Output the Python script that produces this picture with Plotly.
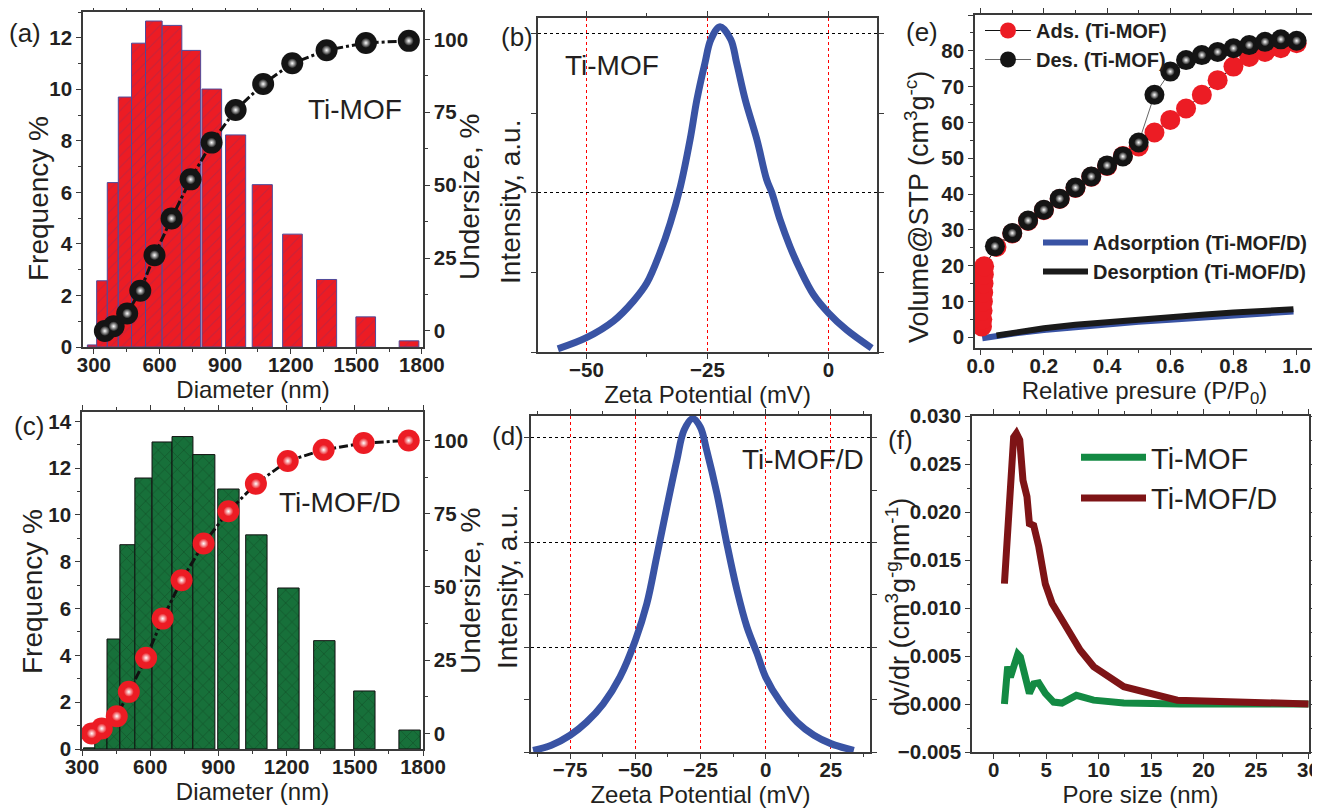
import plotly.graph_objects as go

F = "Liberation Sans, Arial, sans-serif"
TXT = "#231f20"
AX = "#3a3a3a"
RED = "#ec1c24"
BLUE = "#3953a4"
GREEN_BAR = "#17703a"
GREEN_LINE = "#138a43"
DARK_RED = "#7e1416"

# ---------------- (a) Ti-MOF size distribution ----------------
a_centers = [292, 337, 386, 442, 504, 574, 657, 745, 839, 948, 1070, 1208, 1364, 1543, 1741]
a_widths = [44, 49, 50, 61, 64, 76, 90, 86, 90, 92, 92, 90, 92, 90, 90]
a_freq = [0.08, 2.57, 6.38, 9.70, 11.79, 12.65, 12.48, 11.51, 10.01, 8.23, 6.30, 4.38, 2.62, 1.17, 0.24]
a_ux = [350, 390, 452, 512, 577, 655, 742, 838, 948, 1074, 1207, 1364, 1544, 1740]
a_uy = [0.0, 1.6, 6.0, 13.8, 26.0, 38.6, 52.0, 64.6, 75.8, 84.7, 91.8, 96.3, 98.8, 99.5]

# ---------------- (c) Ti-MOF/D size distribution ----------------
c_centers = [331, 383, 438, 500, 570, 652, 742, 836, 944, 1067, 1208, 1366, 1542, 1741]
c_widths = [49, 54, 56, 67, 75, 88, 92, 97, 94, 94, 94, 94, 94, 94]
c_freq = [0.05, 1.0, 4.70, 8.73, 11.58, 13.12, 13.35, 12.58, 11.11, 9.15, 6.88, 4.63, 2.48, 0.81]
c_ux = [343, 387, 453, 506, 582, 655, 738, 835, 944, 1065, 1205, 1363, 1539, 1737]
c_uy = [0.0, 1.7, 5.9, 14.2, 25.8, 39.2, 52.3, 64.8, 75.8, 85.2, 93.0, 96.8, 99.1, 100.0]

# ---------------- (b) zeta potential Ti-MOF ----------------
b_x = [-55.9, -50, -44.4, -40.3, -37.5, -34.8, -32.7, -30.6, -28.6, -27.2, -25.5, -24.3, -22.4,
       -20.2, -19.0, -17.2, -14.8, -12.8, -11.7, -10, -8, -5.9, -3.1, 0, 3.7, 8.9]
b_y = [0.04, 0.18, 0.39, 0.64, 0.87, 1.25, 1.62, 2.08, 2.67, 3.17, 3.64, 3.93, 4.09,
       3.93, 3.64, 3.17, 2.67, 2.17, 2.0, 1.66, 1.33, 1.04, 0.72, 0.49, 0.28, 0.05]

# ---------------- (d) zeta potential Ti-MOF/D ----------------
d_x = [-89.2, -82.2, -75, -68.7, -62.3, -55.9, -50, -45.6, -41.8, -37.9, -34.1, -31.3, -28,
       -25.1, -22.6, -18.7, -14.9, -11, -7.2, -3.3, 0, 5.6, 12.1, 18.5, 25, 33.8]
d_y = [0.03, 0.13, 0.32, 0.57, 0.92, 1.43, 2.13, 2.83, 3.73, 4.68, 5.57, 6.15, 6.37,
       6.21, 5.76, 4.94, 3.98, 3.09, 2.39, 1.88, 1.43, 0.96, 0.57, 0.32, 0.16, 0.03]

# ---------------- (e) N2 isotherms ----------------
e_ads_x = [0.004, 0.005, 0.006, 0.007, 0.008, 0.009, 0.010, 0.011,
           0.05, 0.10, 0.15, 0.20, 0.25, 0.30, 0.35, 0.40, 0.45, 0.50,
           0.55, 0.60, 0.65, 0.70, 0.75, 0.80, 0.85, 0.90, 0.95, 1.00]
e_ads_y = [3.0, 5.0, 7.5, 10.0, 12.5, 15.0, 17.5, 19.8,
           25.2, 29.0, 32.5, 35.5, 38.6, 41.7, 44.8, 47.8, 50.6, 53.3,
           57.2, 60.7, 63.9, 67.7, 71.8, 75.6, 78.3, 79.7, 80.7, 82.1]
e_des_x = [0.045, 0.10, 0.15, 0.20, 0.25, 0.30, 0.35, 0.40, 0.45, 0.50,
           0.55, 0.60, 0.65, 0.70, 0.75, 0.80, 0.85, 0.90, 0.95, 1.00]
e_des_y = [25.4, 29.1, 32.6, 35.6, 38.7, 41.8, 44.9, 48.0, 50.5, 54.4,
           67.7, 74.2, 77.4, 78.8, 79.7, 80.7, 81.6, 82.5, 83.2, 82.8]
eD_ads_x = [0.005, 0.05, 0.1, 0.2, 0.3, 0.4, 0.5, 0.6, 0.7, 0.8, 0.9, 0.99]
eD_ads_y = [-0.3, 0.4, 1.0, 2.0, 2.9, 3.6, 4.3, 4.9, 5.4, 6.0, 6.6, 7.2]
eD_des_x = [0.05, 0.1, 0.2, 0.3, 0.4, 0.5, 0.6, 0.7, 0.8, 0.9, 0.99]
eD_des_y = [0.5, 1.2, 2.5, 3.5, 4.3, 5.0, 5.7, 6.3, 6.9, 7.3, 7.8]

# ---------------- (f) pore size distribution ----------------
f_d_x = [1.02, 1.59, 1.9, 2.16, 2.48, 2.79, 3.17, 3.4, 3.81, 4.29, 4.92, 5.56, 6.5, 8.25, 9.52,
         12.4, 17.5, 24.1, 30.0]
f_d_y = [0.01254, 0.0247, 0.0278, 0.0282, 0.0275, 0.0233, 0.0216, 0.0188, 0.0186, 0.0164,
         0.0125, 0.0105, 0.0087, 0.0056, 0.0039, 0.0018, 0.0004, 0.0002, 0.0000]
f_m_x = [1.02, 1.33, 1.59, 1.9, 2.29, 2.54, 3.17, 3.4, 3.81, 4.29, 4.92, 5.71, 6.5, 7.87, 9.52,
         12.4, 17.8, 30.0]
f_m_y = [0.0, 0.0039, 0.0028, 0.0042, 0.0052, 0.0049, 0.0018, 0.0011, 0.0021, 0.0022, 0.0011,
         0.0002, 0.0001, 0.0009, 0.0004, 0.0001, 0.0, 0.0]

# page geometry: the page body adds an 8 px offset, so the figure is 1312 x 800
W, H, OFF = 1312, 800, 8


def X(px):
    return (px - OFF) / W


def Y(py):
    return 1 - (py - OFF) / H


fig = go.Figure()

# (a)
fig.add_trace(go.Bar(x=a_centers, y=a_freq, width=a_widths, xaxis="x", yaxis="y",
                     marker=dict(color=RED, line=dict(color="#4f4a9a", width=1),
                                 pattern=dict(shape="/", fgcolor="#9a2a55", size=8, solidity=0.12)),
                     showlegend=False))
fig.add_trace(go.Scatter(x=a_ux, y=a_uy, xaxis="x", yaxis="y2", mode="lines+markers",
                         line=dict(color="#111", width=3, dash="dashdot"),
                         marker=dict(size=22, color="#141414"), showlegend=False))
fig.add_trace(go.Scatter(x=a_ux, y=a_uy, xaxis="x", yaxis="y2", mode="markers",
                         marker=dict(size=10, color="#141414", gradient=dict(type="radial", color="white")),
                         showlegend=False, hoverinfo="skip"))

# (c)
fig.add_trace(go.Bar(x=c_centers, y=c_freq, width=c_widths, xaxis="x3", yaxis="y4",
                     marker=dict(color=GREEN_BAR, line=dict(color="#111", width=1),
                                 pattern=dict(shape="x", fgcolor="#0a2a12", size=9, solidity=0.12)),
                     showlegend=False))
fig.add_trace(go.Scatter(x=c_ux, y=c_uy, xaxis="x3", yaxis="y5", mode="lines+markers",
                         line=dict(color="#111", width=3, dash="dashdot"),
                         marker=dict(size=22, color=RED), showlegend=False))
fig.add_trace(go.Scatter(x=c_ux, y=c_uy, xaxis="x3", yaxis="y5", mode="markers",
                         marker=dict(size=10, color=RED, gradient=dict(type="radial", color="white")),
                         showlegend=False, hoverinfo="skip"))

# (b)
fig.add_trace(go.Scatter(x=b_x, y=b_y, xaxis="x2", yaxis="y3", mode="lines",
                         line=dict(color=BLUE, width=7, shape="spline"), showlegend=False))
# (d)
fig.add_trace(go.Scatter(x=d_x, y=d_y, xaxis="x4", yaxis="y6", mode="lines",
                         line=dict(color=BLUE, width=7, shape="spline"), showlegend=False))

# (e)
fig.add_trace(go.Scatter(x=eD_ads_x, y=eD_ads_y, xaxis="x5", yaxis="y7", mode="lines",
                         name="Adsorption (Ti-MOF/D)", line=dict(color=BLUE, width=6), legend="legend2"))
fig.add_trace(go.Scatter(x=eD_des_x, y=eD_des_y, xaxis="x5", yaxis="y7", mode="lines",
                         name="Desorption (Ti-MOF/D)", line=dict(color="#1a1a1a", width=6), legend="legend2"))
fig.add_trace(go.Scatter(x=e_ads_x, y=e_ads_y, xaxis="x5", yaxis="y7", mode="lines+markers",
                         name="Ads. (Ti-MOF)", line=dict(color="#111", width=1),
                         marker=dict(size=20, color=RED), legend="legend"))
fig.add_trace(go.Scatter(x=e_des_x, y=e_des_y, xaxis="x5", yaxis="y7", mode="lines+markers",
                         name="Des. (Ti-MOF)", line=dict(color="#666", width=1),
                         marker=dict(size=20, color="#141414"), legend="legend"))
fig.add_trace(go.Scatter(x=e_des_x, y=e_des_y, xaxis="x5", yaxis="y7", mode="markers",
                         marker=dict(size=9, color="#141414", gradient=dict(type="radial", color="white")),
                         showlegend=False, hoverinfo="skip"))

# (f)
fig.add_trace(go.Scatter(x=f_m_x, y=f_m_y, xaxis="x6", yaxis="y8", mode="lines", name="Ti-MOF",
                         line=dict(color=GREEN_LINE, width=7), legend="legend3"))
fig.add_trace(go.Scatter(x=f_d_x, y=f_d_y, xaxis="x6", yaxis="y8", mode="lines", name="Ti-MOF/D",
                         line=dict(color=DARK_RED, width=7), legend="legend3"))

tickfont = dict(family=F, size=20.5, color=TXT, weight=700)


def ax(domain, anchor, rng, dtick, minor_dtick, title="", tsize=24, standoff=0, minor_len=3, **kw):
    d = dict(domain=domain, anchor=anchor, range=rng, dtick=dtick, tick0=0, automargin=False,
             showline=True, linecolor=AX, linewidth=1.5, ticks="outside", ticklen=5,
             tickwidth=1.2, tickcolor=AX, tickfont=tickfont, showgrid=False, zeroline=False,
             minor=dict(dtick=minor_dtick, ticks="outside", ticklen=minor_len, tickwidth=1, tickcolor=AX),
             title=dict(text=title, font=dict(family=F, size=tsize, color=TXT), standoff=standoff))
    d.update(kw)
    return d


def xd(p0, p1):
    return [X(p0), X(p1)]


def yd(top, bottom):
    return [Y(bottom), Y(top)]


XS = -6  # pull x tick labels a little closer to the axis

fig.update_layout(
    width=W, height=H, margin=dict(l=0, r=0, t=0, b=0, pad=0, autoexpand=False),
    paper_bgcolor="white", plot_bgcolor="white", barmode="overlay",
    font=dict(family=F, color=TXT),
    # (a)
    xaxis=ax(xd(83, 423), "y", [250, 1805], 300, 150, "Diameter (nm)", 24, 1, mirror="ticks",
             ticklabelstandoff=XS),
    yaxis=ax(yd(12, 347), "x", [0, 13], 2, 1),
    yaxis2=ax(yd(12, 347), "x", [-5.5, 109.4], 25, 12.5, overlaying="y", side="right"),
    # (b)
    xaxis2=ax(xd(538, 877), "y3", [-60, 10], 25, 12.5, "Zeta Potential (mV)", 24, 1,
              mirror="ticks", showgrid=True, gridcolor="red", griddash="dot", gridwidth=1,
              ticklabelstandoff=XS),
    yaxis3=ax(yd(18, 352), "x2", [0, 4.2], 2, 1, minor_len=5,
              mirror="ticks", showticklabels=False, showgrid=True, gridcolor="black",
              griddash="dot", gridwidth=1),
    # (c)
    xaxis3=ax(xd(82, 423), "y4", [300, 1800], 300, 150, "Diameter (nm)", 24, 5, mirror="ticks",
              ticklabelstandoff=XS),
    yaxis4=ax(yd(412, 749), "x3", [0, 14.4], 2, 1),
    yaxis5=ax(yd(412, 749), "x3", [-5.3, 109.7], 25, 12.5, overlaying="y4", side="right"),
    # (d)
    xaxis4=ax(xd(531, 870), "y6", [-90, 40], 25, 12.5, "Zeeta Potential (mV)", 24, 5,
              mirror="ticks", showgrid=True, gridcolor="red", griddash="dot", gridwidth=1,
              ticklabelstandoff=XS),
    yaxis6=ax(yd(416, 752), "x4", [0, 6.42], 2, 1, minor_len=5,
              mirror="ticks", showticklabels=False, showgrid=True, gridcolor="black",
              griddash="dot", gridwidth=1),
    # (e)
    xaxis5=ax(xd(975, 1314), "y7", [-0.018, 1.055], 0.2, 0.1, "Relative presure (P/P<sub>0</sub>)",
              24, 1, mirror="ticks", tickformat=".1f", ticklabelstandoff=XS),
    yaxis7=ax(yd(15, 348), "x5", [-3, 90], 10, 5, mirror="ticks"),
    # (f)
    xaxis6=ax(xd(972, 1309), "y8", [-2.07, 30.05], 5, 2.5, "Pore size (nm)", 24, 5, mirror="ticks",
              ticklabelstandoff=XS),
    yaxis8=ax(yd(416, 752), "x6", [-0.005, 0.030], 0.005, 0.0025, mirror="ticks", tickformat=".3f"),
    legend=dict(x=X(980), y=Y(11), xanchor="left", yanchor="top", bgcolor="rgba(0,0,0,0)",
                font=dict(family=F, size=20, color=TXT, weight=700), itemwidth=46,
                tracegroupgap=0),
    legend2=dict(x=X(1038), y=Y(223), xanchor="left", yanchor="top", bgcolor="rgba(0,0,0,0)",
                 font=dict(family=F, size=20, color=TXT, weight=700), itemwidth=45,
                 tracegroupgap=0),
    legend3=dict(x=X(1076), y=Y(432), xanchor="left", yanchor="top", bgcolor="rgba(0,0,0,0)",
                 font=dict(family=F, size=29, color=TXT), itemwidth=65, tracegroupgap=0),
)

# panel labels and sample names (pixel centres)
annos = [
    ("(a)", 25, 33, 26), ("(b)", 517, 37, 26), ("(c)", 29, 426, 26),
    ("(d)", 508, 436, 26), ("(e)", 922, 32, 26), ("(f)", 900, 440, 26),
    ("Ti-MOF", 355, 110, 28), ("Ti-MOF/D", 340, 502, 28),
    ("Ti-MOF", 612, 65, 28), ("Ti-MOF/D", 803, 460, 28),
]
for t, px, py, s in annos:
    fig.add_annotation(text=t, x=X(px), y=Y(py), xref="paper", yref="paper", showarrow=False,
                       xanchor="center", yanchor="middle", font=dict(family=F, size=s, color=TXT))

# vertical axis titles (pixel centres)
ytitles = [
    ("Frequency %", 38, 199, 28), ("Undersize, %", 470, 197, 28), ("Intensity, a.u.", 511, 202, 28),
    ("Frequency %", 32, 592, 28), ("Undersize, %", 470, 591, 28), ("Intensity, a.u.", 507, 587, 28),
    ("Volume@STP (cm<sup>3</sup>g<sup>-c</sup>)", 917, 207, 27),
    ("dv/dr (cm<sup>3</sup>g<sup>-g</sup>nm<sup>-1</sup>)", 898, 607, 27),
]
for t, px, py, s in ytitles:
    fig.add_annotation(text=t, x=X(px), y=Y(py), xref="paper", yref="paper", showarrow=False,
                       textangle=-90, xanchor="center", yanchor="middle",
                       font=dict(family=F, size=s, color=TXT))

fig.write_html("out.html")
